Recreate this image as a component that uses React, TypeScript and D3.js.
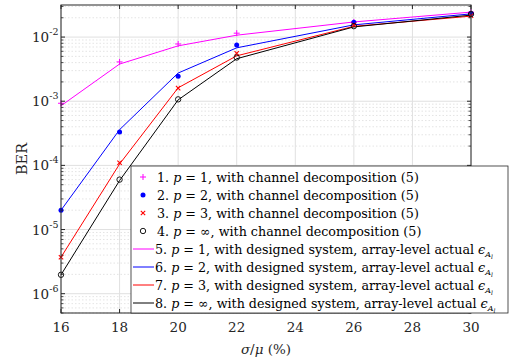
import React from "react";
import * as d3 from "d3";

const xValues = [16, 18, 20, 22, 26, 30];
const xTicks = [16, 18, 20, 22, 24, 26, 28, 30];
const yDecades = [-6, -5, -4, -3, -2];

// markers: with channel decomposition (5)
const m1 = [9.3e-4, 4.1e-3, 7.8e-3, 1.15e-2, 1.72e-2, 2.45e-2];
const m2 = [2.0e-5, 3.3e-4, 2.45e-3, 7.5e-3, 1.7e-2, 2.33e-2];
const m3 = [3.7e-6, 1.1e-4, 1.6e-3, 5.6e-3, 1.55e-2, 2.15e-2];
const m4 = [1.97e-6, 6.0e-5, 1.07e-3, 4.8e-3, 1.48e-2, 2.28e-2];
// lines: with designed system
const l1 = [8.5e-4, 3.8e-3, 7.3e-3, 1.07e-2, 1.72e-2, 2.45e-2];
const l2 = [2.0e-5, 3.6e-4, 2.75e-3, 6.8e-3, 1.55e-2, 2.3e-2];
const l3 = [3.7e-6, 1.05e-4, 1.62e-3, 5.1e-3, 1.47e-2, 2.12e-2];
const l4 = [1.97e-6, 5.8e-5, 1.05e-3, 4.6e-3, 1.44e-2, 2.2e-2];

const colors = ["#ff00ff", "#0000ff", "#ff0000", "#000000"];
const pLabels = ["1", "2", "3", "∞"];

const W = 516, H = 358;
const L = 61, R = 471, T = 5, B = 313;
const axisColor = "#262626";
const FONT = "DejaVu Serif";

function Marker({ kind, x, y, color }: { kind: number; x: number; y: number; color: string }) {
  if (kind === 0) {
    const s = 3;
    return <path d={`M${x - s},${y}H${x + s}M${x},${y - s}V${y + s}`} stroke={color} strokeWidth={1} fill="none" />;
  }
  if (kind === 1) return <circle cx={x} cy={y} r={2.5} fill={color} />;
  if (kind === 2) {
    const s = 2.2;
    return <path d={`M${x - s},${y - s}L${x + s},${y + s}M${x - s},${y + s}L${x + s},${y - s}`} stroke={color} strokeWidth={1.1} fill="none" />;
  }
  return <circle cx={x} cy={y} r={2.7} fill="none" stroke={color} strokeWidth={0.9} />;
}

export default function App() {
  const x = d3.scaleLinear().domain([16, 30]).range([L, R]);
  const y = d3.scaleLog().domain([5e-7, Math.pow(10, -1.5)]).range([B, T]);
  const markers = [m1, m2, m3, m4];
  const lines = [l1, l2, l3, l4];
  const line = d3
    .line<number>()
    .x((_, i) => x(xValues[i]))
    .y((d) => y(d));

  const minor: number[] = [];
  for (let e = -7; e <= -2; e++) {
    for (let k = 2; k <= 9; k++) {
      const v = k * Math.pow(10, e);
      if (v >= 5e-7 && v <= Math.pow(10, -1.5)) minor.push(v);
    }
  }

  const legX = 131, legY = 166, legW = 377, legH = 147;
  const rowY = (i: number) => legY + 11 + i * 18;
  const LFS = 12.7;

  return (
    <svg width={W} height={H} style={{ position: "absolute", left: 0, top: 0, background: "#fff", fontFamily: FONT }}>
      <rect x={0} y={0} width={W} height={H} fill="#fff" />
      {/* minor grid */}
      {minor.map((v, i) => (
        <line key={"mg" + i} x1={L} x2={R} y1={y(v)} y2={y(v)} stroke="#d9d9d9" strokeWidth={0.7} strokeDasharray="1.5,2" />
      ))}
      {/* major grid */}
      {yDecades.map((e) => (
        <line key={"yg" + e} x1={L} x2={R} y1={y(Math.pow(10, e))} y2={y(Math.pow(10, e))} stroke="#e0e0e0" strokeWidth={1} />
      ))}
      {xTicks.map((t) => (
        <line key={"xg" + t} x1={x(t)} x2={x(t)} y1={T} y2={B} stroke="#e0e0e0" strokeWidth={1} />
      ))}
      {/* data lines */}
      {lines.map((s, i) => (
        <path key={"l" + i} d={line(s) || ""} fill="none" stroke={colors[i]} strokeWidth={1} />
      ))}
      {markers.map((s, i) =>
        s.map((v, j) => <Marker key={"m" + i + "-" + j} kind={i} x={x(xValues[j])} y={y(v)} color={colors[i]} />)
      )}
      {/* axes box */}
      <rect x={L} y={T} width={R - L} height={B - T} fill="none" stroke={axisColor} strokeWidth={1} />
      {xTicks.map((t) => (
        <g key={"xt" + t}>
          <line x1={x(t)} x2={x(t)} y1={B} y2={B - 4} stroke={axisColor} />
          <line x1={x(t)} x2={x(t)} y1={T} y2={T + 4} stroke={axisColor} />
          <text x={x(t)} y={332} textAnchor="middle" fontSize={13.5} fill={axisColor}>
            {t}
          </text>
        </g>
      ))}
      {yDecades.map((e) => (
        <g key={"yt" + e}>
          <line x1={L} x2={L + 4} y1={y(Math.pow(10, e))} y2={y(Math.pow(10, e))} stroke={axisColor} />
          <line x1={R} x2={R - 4} y1={y(Math.pow(10, e))} y2={y(Math.pow(10, e))} stroke={axisColor} />
          <text x={32} y={y(Math.pow(10, e)) + 5} fontSize={13.5} fill={axisColor}>
            10
            <tspan dy={-7} fontSize={9.5}>
              {"-" + Math.abs(e)}
            </tspan>
          </text>
        </g>
      ))}
      {minor.map((v, i) => (
        <g key={"mt" + i}>
          <line x1={L} x2={L + 2.5} y1={y(v)} y2={y(v)} stroke={axisColor} strokeWidth={0.8} />
          <line x1={R} x2={R - 2.5} y1={y(v)} y2={y(v)} stroke={axisColor} strokeWidth={0.8} />
        </g>
      ))}
      <text x={(L + R) / 2} y={354} textAnchor="middle" fontSize={13.5} fill={axisColor}>
        <tspan fontStyle="italic">σ</tspan>/<tspan fontStyle="italic">μ</tspan> (%)
      </text>
      <text transform={`translate(27,${(T + B) / 2}) rotate(-90)`} textAnchor="middle" fontSize={14.5} fill={axisColor}>
        BER
      </text>
      {/* legend */}
      <rect x={legX} y={legY} width={legW} height={legH} fill="#fff" stroke={axisColor} strokeWidth={0.8} />
      {[0, 1, 2, 3].map((i) => (
        <g key={"lg" + i}>
          <Marker kind={i} x={143} y={rowY(i)} color={colors[i]} />
          <text x={157} y={rowY(i) + 4.5} fontSize={LFS} fill="#000">
            {i + 1}. <tspan fontStyle="italic">p</tspan> = {pLabels[i]}, with channel decomposition (5)
          </text>
        </g>
      ))}
      {[0, 1, 2, 3].map((i) => (
        <g key={"lgl" + i}>
          <line x1={133} x2={154} y1={rowY(i + 4)} y2={rowY(i + 4)} stroke={colors[i]} strokeWidth={1} />
          <text x={155} y={rowY(i + 4) + 4.5} fontSize={LFS} fill="#000">
            {i + 5}. <tspan fontStyle="italic">p</tspan> = {pLabels[i]}, with designed system, array-level actual{" "}
            <tspan fontStyle="italic">ϵ</tspan>
            <tspan fontStyle="italic" fontSize={8} dy={3}>A</tspan>
            <tspan fontStyle="italic" fontSize={6} dy={2}>l</tspan>
          </text>
        </g>
      ))}
    </svg>
  );
}
